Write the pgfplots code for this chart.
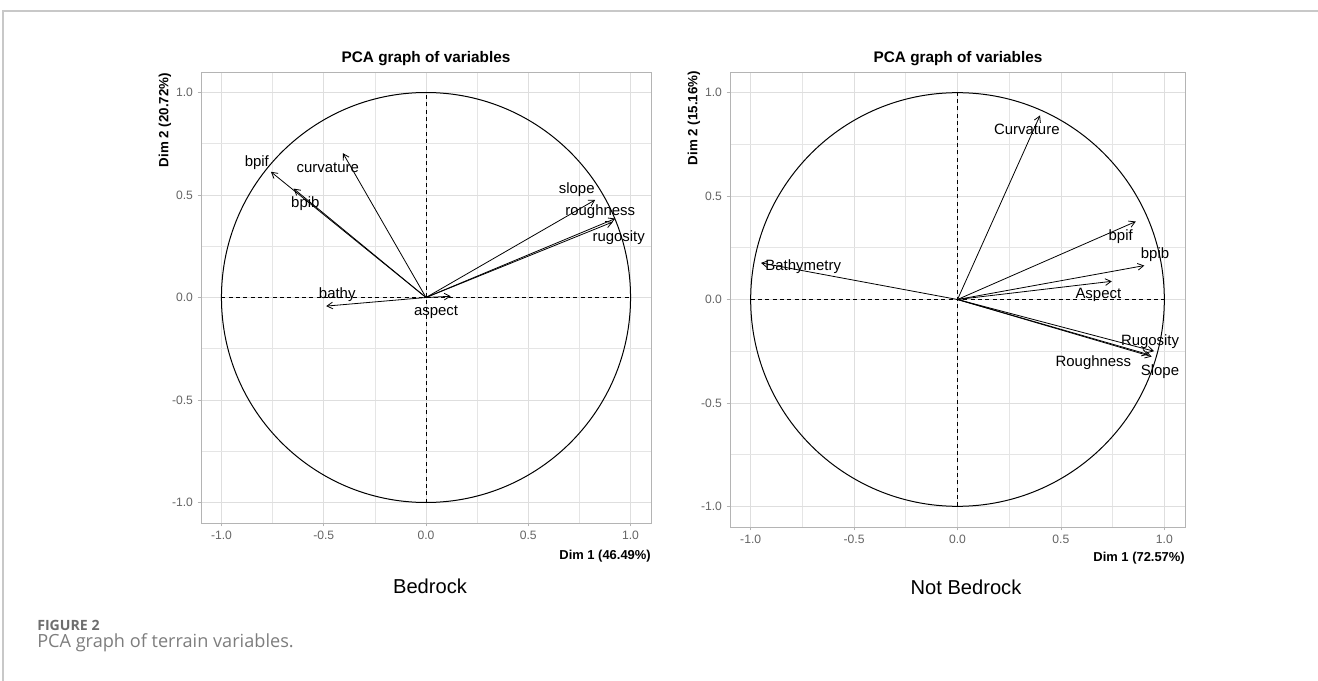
\documentclass[border=0pt]{standalone}
\usepackage{fontspec}
\setmainfont{Liberation Sans}
\newfontfamily\capfont{Open Sans}
\usepackage{pgfplots}
\pgfplotsset{compat=1.18}
\usetikzlibrary{arrows.meta}
\definecolor{tickgray}{RGB}{100,100,100}
\definecolor{gridgray}{RGB}{222,222,222}
\definecolor{framegray}{RGB}{180,180,180}
\definecolor{capgray}{RGB}{125,125,125}
\definecolor{figgray}{RGB}{110,110,110}
\definecolor{pagegray}{RGB}{200,200,200}

\pgfplotsset{pcastyle/.style={
  scale only axis, anchor=north west, clip=false,
  xmin=-1.1, xmax=1.1, ymin=-1.1, ymax=1.1,
  xtick={-1,-0.5,0,0.5,1}, ytick={-1,-0.5,0,0.5,1},
  minor xtick={-0.75,-0.25,0.25,0.75}, minor ytick={-0.75,-0.25,0.25,0.75},
  grid=both,
  major grid style={draw=gridgray, line width=0.6pt},
  minor grid style={draw=gridgray!80, line width=0.5pt},
  axis line style={draw=framegray, line width=0.7pt},
  tick pos=left, tick align=outside,
  major tick length=2.5pt, minor tick length=0pt,
  major tick style={draw=framegray, line width=0.6pt},
  ticklabel style={font=\fontsize{9.1}{10}\selectfont, text=tickgray},
  /pgf/number format/fixed,
  /pgf/number format/fixed zerofill,
  /pgf/number format/precision=1,
  /pgf/number format/assume math mode=true,
}}
\tikzset{
arr/.style={-{Straight Barb[angle=60:5pt]}, line width=0.6pt, black},
lab/.style={font=\fontsize{11.2}{12}\selectfont, black, inner sep=0pt},
}

\begin{document}
\begin{tikzpicture}
\useasboundingbox (0,0) rectangle (988.5pt,-510.75pt);

% ---------- Left panel: Bedrock ----------
\begin{axis}[pcastyle, at={(150.75pt,-54pt)}, width=337.5pt, height=338.25pt]
\draw[line width=0.75pt] (axis cs:0,0) circle [radius=1];
\draw[line width=0.6pt, dash pattern=on 3pt off 2.5pt] (axis cs:-1,0) -- (axis cs:1,0);
\draw[line width=0.6pt, dash pattern=on 3pt off 2.5pt] (axis cs:0,-1) -- (axis cs:0,1);
\addplot[arr] coordinates {(0,0) (-0.758,0.613)};   % bpif
\addplot[arr] coordinates {(0,0) (-0.647,0.531)};   % bpib
\addplot[arr] coordinates {(0,0) (-0.406,0.704)};   % curvature
\addplot[arr] coordinates {(0,0) (0.827,0.476)};    % slope
\addplot[arr] coordinates {(0,0) (0.925,0.385)};    % roughness
\addplot[arr] coordinates {(0,0) (0.912,0.368)};    % rugosity
\addplot[arr] coordinates {(0,0) (-0.488,-0.042)};  % bathy
\addplot[arr] coordinates {(0,0) (0.121,0.006)};    % aspect
\node[lab] at (axis cs:-0.827,0.658) {bpif};
\node[lab] at (axis cs:-0.48,0.634) {curvature};
\node[lab] at (axis cs:-0.59,0.46) {bpib};
\node[lab] at (axis cs:0.737,0.528) {slope};
\node[lab] at (axis cs:0.852,0.419) {roughness};
\node[lab] at (axis cs:0.942,0.292) {rugosity};
\node[lab] at (axis cs:-0.434,0.015) {bathy};
\node[lab] at (axis cs:0.049,-0.072) {aspect};
\end{axis}

% ---------- Right panel: Not Bedrock ----------
\begin{axis}[pcastyle, at={(547.5pt,-54pt)}, width=341.25pt, height=341.25pt]
\draw[line width=0.75pt] (axis cs:0,0) circle [radius=1];
\draw[line width=0.6pt, dash pattern=on 3pt off 2.5pt] (axis cs:-1,0) -- (axis cs:1,0);
\draw[line width=0.6pt, dash pattern=on 3pt off 2.5pt] (axis cs:0,-1) -- (axis cs:0,1);
\addplot[arr] coordinates {(0,0) (0.399,0.890)};    % Curvature
\addplot[arr] coordinates {(0,0) (0.862,0.377)};    % bpif
\addplot[arr] coordinates {(0,0) (0.903,0.164)};    % bpib
\addplot[arr] coordinates {(0,0) (0.746,0.088)};    % Aspect
\addplot[arr] coordinates {(0,0) (-0.950,0.177)};   % Bathymetry
\addplot[arr] coordinates {(0,0) (0.950,-0.250)};   % Rugosity
\addplot[arr] coordinates {(0,0) (0.923,-0.266)};   % Roughness
\addplot[arr] coordinates {(0,0) (0.939,-0.276)};   % Slope
\node[lab] at (axis cs:0.335,0.822) {Curvature};
\node[lab] at (axis cs:0.789,0.305) {bpif};
\node[lab] at (axis cs:0.955,0.218) {bpib};
\node[lab] at (axis cs:0.681,0.023) {Aspect};
\node[lab] at (axis cs:-0.746,0.160) {Bathymetry};
\node[lab] at (axis cs:0.931,-0.203) {Rugosity};
\node[lab] at (axis cs:0.657,-0.303) {Roughness};
\node[lab] at (axis cs:0.979,-0.347) {Slope};
\end{axis}

% ---------- Texts around the panels (pixel units) ----------
\begin{scope}[x=0.75pt,y=-0.75pt]
\draw[pagegray, line width=0.8pt] (3,681) -- (3,11) -- (1318,11);
\node[font=\bfseries\fontsize{11.5}{12}\selectfont] at (426,59) {PCA graph of variables};
\node[font=\bfseries\fontsize{11.5}{12}\selectfont] at (958,59) {PCA graph of variables};
\node[rotate=90, font=\bfseries\fontsize{10}{11}\selectfont, inner sep=0pt] at (165,120) {Dim 2 (20.72\%)};
\node[rotate=90, font=\bfseries\fontsize{10}{11}\selectfont, inner sep=0pt] at (694,118) {Dim 2 (15.16\%)};
\node[anchor=east, font=\bfseries\fontsize{9.7}{10}\selectfont, inner sep=0pt] at (651,556) {Dim 1 (46.49\%)};
\node[anchor=east, font=\bfseries\fontsize{9.7}{10}\selectfont, inner sep=0pt] at (1185,558) {Dim 1 (72.57\%)};
\node[font=\fontsize{15.1}{16}\selectfont, inner sep=0pt] at (430,586) {Bedrock};
\node[font=\fontsize{15.1}{16}\selectfont, inner sep=0pt] at (966,587) {Not Bedrock};
\node[anchor=base west, inner sep=0pt, text=figgray, font=\capfont\bfseries\fontsize{10.6}{12}\selectfont] at (37,630) {FIGURE 2};
\node[anchor=base west, inner sep=0pt, text=capgray, font=\capfont\fontsize{13.6}{15}\selectfont] at (37,647) {PCA graph of terrain variables.};
\end{scope}
\end{tikzpicture}
\end{document}
